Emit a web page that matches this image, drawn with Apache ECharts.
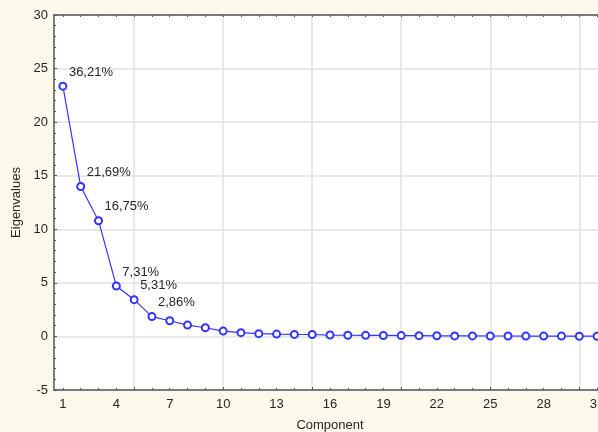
<!DOCTYPE html>
<html>
<head>
<meta charset="utf-8">
<script src="https://cdn.jsdelivr.net/npm/echarts@6/dist/echarts.min.js"></script>
<style>
  html, body { margin: 0; padding: 0; background: #fdf8ec; }
  #chart { width: 598px; height: 432px; }
</style>
</head>
<body>
<div id="chart"></div>
<script>
// scree plot: eigenvalue per component
const components = Array.from({ length: 31 }, (_, i) => i + 1);
const eigenvalues = [
  23.36, 13.99, 10.80, 4.71, 3.43, 1.85, 1.46, 1.06, 0.81, 0.50,
  0.35, 0.26, 0.22, 0.19, 0.18, 0.13, 0.11, 0.10, 0.09, 0.08,
  0.07, 0.06, 0.05, 0.05, 0.04, 0.04, 0.03, 0.03, 0.03, 0.02, 0.02
];
const pctLabels = ['36,21%', '21,69%', '16,75%', '7,31%', '5,31%', '2,86%'];
const xLabelTicks = [1, 4, 7, 10, 13, 16, 19, 22, 25, 28, 31];
const xGridTicks = [5, 10, 15, 20, 25, 30];

const FONT = '"Liberation Sans", Arial, sans-serif';
const AXIS_COLOR = '#555';
const TEXT_COLOR = '#262626';

const chart = echarts.init(document.getElementById('chart'));

const baseX = {
  type: 'value',
  min: 0.5,
  max: 31.5,
  splitLine: { show: false },
  axisLabel: { show: false },
};

chart.setOption({
  animation: false,
  backgroundColor: '#fdf8ec',
  textStyle: { fontFamily: FONT },
  grid: {
    left: 54, top: 15, right: -8, bottom: 42,
    show: true, backgroundColor: '#fff', borderWidth: 0,
    outerBoundsMode: 'none',
  },
  xAxis: [
    {
      ...baseX,
      position: 'bottom',
      name: 'Component',
      nameLocation: 'middle',
      nameGap: 29,
      nameTextStyle: { color: TEXT_COLOR, fontSize: 13, fontFamily: FONT },
      axisLine: { show: true, onZero: false, lineStyle: { color: AXIS_COLOR, width: 1.5 } },
      axisTick: { show: true, inside: true, length: 3, customValues: xGridTicks, lineStyle: { color: AXIS_COLOR } },
      axisLabel: { show: true, customValues: xLabelTicks, color: TEXT_COLOR, fontSize: 13, margin: 8, fontFamily: FONT },
      splitLine: { show: true, lineStyle: { color: '#e2e2e2', width: 1.5 } },
    },
    {
      ...baseX,
      position: 'bottom',
      axisLine: { show: false, onZero: false },
      axisTick: { show: true, inside: true, length: 2, customValues: components, lineStyle: { color: AXIS_COLOR } },
    },
    {
      ...baseX,
      position: 'top',
      axisLine: { show: true, onZero: false, lineStyle: { color: AXIS_COLOR, width: 1.5 } },
      axisTick: { show: true, inside: true, length: 2, customValues: components, lineStyle: { color: AXIS_COLOR } },
    },
  ],
  yAxis: {
    type: 'value',
    min: -5,
    max: 30,
    interval: 5,
    name: 'Eigenvalues',
    nameLocation: 'middle',
    nameGap: 26,
    nameTextStyle: { color: TEXT_COLOR, fontSize: 13, fontFamily: FONT },
    axisLine: { show: true, lineStyle: { color: AXIS_COLOR, width: 1.5 } },
    axisTick: { show: true, inside: true, length: 3, lineStyle: { color: AXIS_COLOR } },
    minorTick: { show: true, splitNumber: 5, length: 2, lineStyle: { color: AXIS_COLOR } },
    axisLabel: { color: TEXT_COLOR, fontSize: 13, margin: 6, fontFamily: FONT },
    splitLine: { show: true, lineStyle: { color: '#e2e2e2', width: 1.5 } },
  },
  series: [{
    type: 'line',
    xAxisIndex: 0,
    data: components.map((c, i) => ({
      value: [c, eigenvalues[i]],
      label: pctLabels[i]
        ? { show: true, formatter: pctLabels[i] }
        : { show: false },
    })),
    symbol: 'emptyCircle',
    symbolSize: 7,
    lineStyle: { color: '#3434ff', width: 1.2 },
    itemStyle: { color: '#3434ff', borderWidth: 1.2 },
    label: {
      position: 'top',
      align: 'left',
      offset: [6, 2],
      color: TEXT_COLOR,
      fontSize: 13,
      fontFamily: FONT,
    },
  }],
});
</script>
</body>
</html>
